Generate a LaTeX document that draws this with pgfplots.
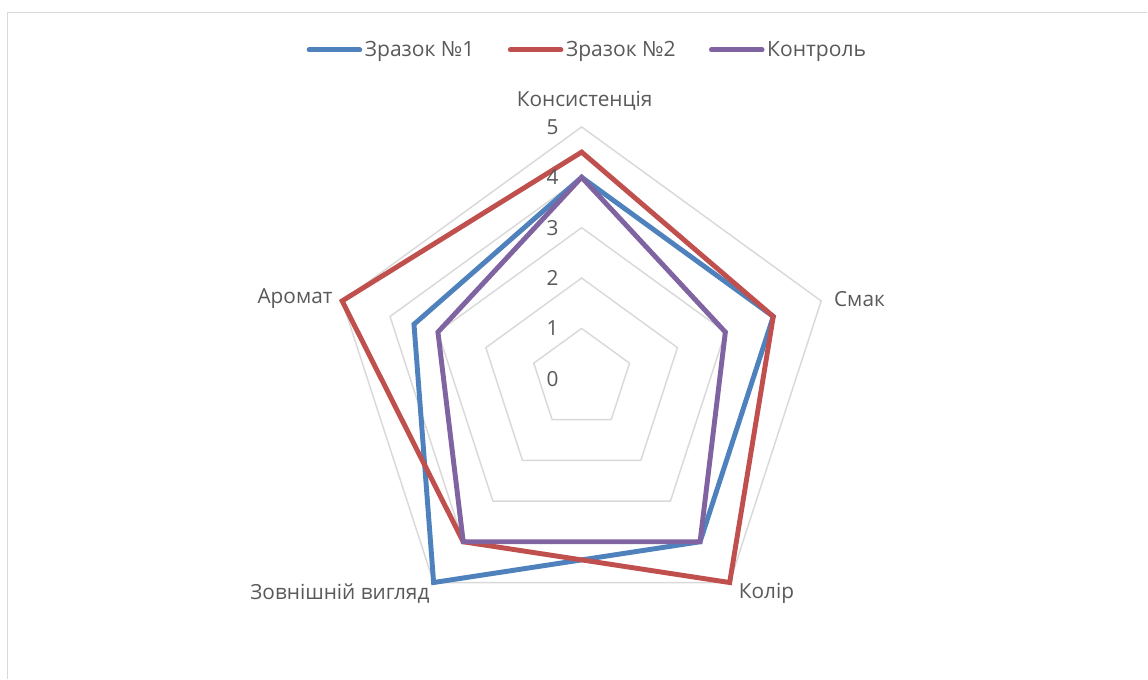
\documentclass[border=0pt]{standalone}
\usepackage{pgfplots}
\pgfplotsset{compat=1.18}
\usepackage{fontspec}
\setmainfont{Open Sans}
\definecolor{sA}{HTML}{4F81BD}
\definecolor{sB}{HTML}{C0504D}
\definecolor{sC}{HTML}{8064A2}
\definecolor{gridc}{HTML}{D9D9D9}
\definecolor{txt}{HTML}{595959}
\begin{document}
\begin{tikzpicture}[font=\fontsize{15.6pt}{18pt}\selectfont]
\begin{axis}[
  scale only axis, width=861pt, height=509.25pt,
  xmin=-11.548, xmax=11.230, ymin=-5.952, ymax=7.520,
  hide axis, clip=false,
  legend columns=3,
  legend style={draw=none, fill=none, at={(axis cs:0.12,6.528)}, anchor=center,
    text=txt, font=\fontsize{15.8pt}{18pt}\selectfont,
    /tikz/every even column/.append style={column sep=23pt},
    nodes={inner xsep=2pt}},
  legend image code/.code={\draw[#1, line cap=round] (0pt,0pt) -- (38pt,0pt);},
]
% grid rings
\addplot[gridc, line width=1.1pt, forget plot, data cs=polar] coordinates {(90,1)(18,1)(-54,1)(-126,1)(-198,1)} -- cycle;
\addplot[gridc, line width=1.1pt, forget plot, data cs=polar] coordinates {(90,2)(18,2)(-54,2)(-126,2)(-198,2)} -- cycle;
\addplot[gridc, line width=1.1pt, forget plot, data cs=polar] coordinates {(90,3)(18,3)(-54,3)(-126,3)(-198,3)} -- cycle;
\addplot[gridc, line width=1.1pt, forget plot, data cs=polar] coordinates {(90,4)(18,4)(-54,4)(-126,4)(-198,4)} -- cycle;
\addplot[gridc, line width=1.1pt, forget plot, data cs=polar] coordinates {(90,5)(18,5)(-54,5)(-126,5)(-198,5)} -- cycle;
% series: Консистенція, Смак, Колір, Зовнішній вигляд, Аромат
\addplot[sA, line width=3.7pt, data cs=polar] coordinates {(90,4)(18,4)(-54,4)(-126,5)(-198,3.5)} -- cycle;
\addlegendentry{Зразок №1}
\addplot[sB, line width=3.7pt, data cs=polar] coordinates {(90,4.5)(18,4)(-54,5)(-126,4)(-198,5)} -- cycle;
\addlegendentry{Зразок №2}
\addplot[sC, line width=3.7pt, data cs=polar] coordinates {(90,4)(18,3)(-54,4)(-126,4)(-198,3)} -- cycle;
\addlegendentry{Контроль}
% value labels
\foreach \k in {0,...,5} {
  \edef\temp{\noexpand\node[text=txt] at (axis cs:-0.575,\k) {\k};}
  \temp
}
% category labels
\node[text=txt] at (axis cs:0.06,5.516) {Консистенція};
\node[text=txt] at (axis cs:5.516,1.587) {Смак};
\node[text=txt] at (axis cs:3.67,-4.266) {Колір};
\node[text=txt] at (axis cs:-4.80,-4.266) {Зовнішній вигляд};
\node[text=txt] at (axis cs:-5.69,1.587) {Аромат};
% chart border
\draw[gridc, line width=1.1pt] (axis cs:-11.399,-5.952) -- (axis cs:-11.399,7.272) -- (axis cs:11.230,7.272);
\end{axis}
\path (current axis.south west) rectangle (current axis.north east);
\end{tikzpicture}
\end{document}
